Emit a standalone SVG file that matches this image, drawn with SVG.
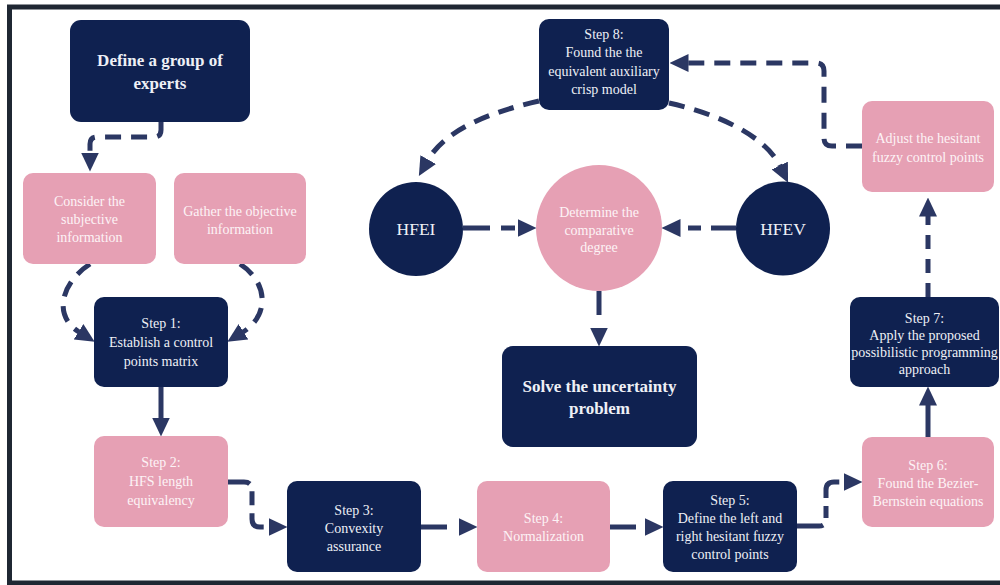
<svg xmlns="http://www.w3.org/2000/svg" width="1000" height="585" viewBox="0 0 1000 585">
<style>
.navy{fill:#0f2150}
.pink{fill:#e6a0b4}
.tn{fill:#eef0f6;font-family:"Liberation Serif",serif;font-size:14px;text-anchor:middle}
.tp{fill:#fdf3f6;font-family:"Liberation Serif",serif;font-size:14px;text-anchor:middle}
.tb{fill:#eef0f6;font-family:"Liberation Serif",serif;font-size:17px;font-weight:bold;text-anchor:middle}
.tc{fill:#eef0f6;font-family:"Liberation Serif",serif;font-size:17.5px;text-anchor:middle}
.c{fill:none;stroke:#2b3763;stroke-width:5}
</style>
<defs>
<marker id="ah" viewBox="0 0 19 18" refX="0.5" refY="9" markerWidth="19" markerHeight="18" markerUnits="userSpaceOnUse" orient="auto">
<path d="M0,0 L19,9 L0,18 Z" fill="#2b3763"/>
</marker>
</defs>
<rect x="0" y="0" width="1000" height="585" fill="#ffffff"/>
<rect x="9.5" y="7" width="1000" height="576" fill="none" stroke="#1f2733" stroke-width="5"/>

<g id="connectors">
<path class="c" d="M161,122 V130 Q161,137 154,137 H97 Q90,137 90,144 V153" stroke-dasharray="16 10" marker-end="url(#ah)"/>
<path class="c" d="M90,264 C62,282 52,315 79,332" stroke-dasharray="16 10" marker-end="url(#ah)"/>
<path class="c" d="M240,264 C268,282 270,315 243,332" stroke-dasharray="16 10" marker-end="url(#ah)"/>
<path class="c" d="M161,387 V418" marker-end="url(#ah)"/>
<path class="c" d="M228,482 H244 Q252,482 252,490 V519 Q252,527 260,527 H269" stroke-dasharray="22 8 14 8" marker-end="url(#ah)"/>
<path class="c" d="M421,527 H459" stroke-dasharray="26 12" marker-end="url(#ah)"/>
<path class="c" d="M610,527 H645" stroke-dasharray="26 12" marker-end="url(#ah)"/>
<path class="c" d="M797,526 H819 Q826,526 826,519 V490 Q826,482 834,482 H844" stroke-dasharray="26 8 12 8" marker-end="url(#ah)"/>
<path class="c" d="M928,437 V405" marker-end="url(#ah)"/>
<path class="c" d="M928,297 V216" stroke-dasharray="14 10" marker-end="url(#ah)"/>
<path class="c" d="M862,146 H832 Q824,146 824,138 V71 Q824,63 816,63 H688" stroke-dasharray="16 10" marker-end="url(#ah)"/>
<path class="c" d="M539,101 C490,112 445,130 428,160" stroke-dasharray="16 10" marker-end="url(#ah)"/>
<path class="c" d="M669,103 C715,113 765,135 780,166" stroke-dasharray="16 10" marker-end="url(#ah)"/>
<path class="c" d="M463,228 H518" stroke-dasharray="27 11 14 20" marker-end="url(#ah)"/>
<path class="c" d="M736,228 H680" stroke-dasharray="25 10 13 20" marker-end="url(#ah)"/>
<path class="c" d="M599,291 V328" stroke-dasharray="24 20" marker-end="url(#ah)"/>
</g>

<g id="define">
<rect class="navy" x="70" y="20" width="180" height="102" rx="11"/>
<text class="tb" x="160" y="65.5">Define a group of</text>
<text class="tb" x="160" y="88.5">experts</text>
</g>
<g id="consider">
<rect class="pink" x="23" y="173" width="133" height="91" rx="10"/>
<text class="tp" x="89.5" y="205.5">Consider the</text>
<text class="tp" x="89.5" y="223.5">subjective</text>
<text class="tp" x="89.5" y="241.5">information</text>
</g>
<g id="gather">
<rect class="pink" x="174" y="173" width="132" height="91" rx="10"/>
<text class="tp" x="240" y="215.5">Gather the objective</text>
<text class="tp" x="240" y="233.5">information</text>
</g>
<g id="step1">
<rect class="navy" x="94" y="297" width="134" height="90" rx="10"/>
<text class="tn" x="161" y="328">Step 1:</text>
<text class="tn" x="161" y="347">Establish a control</text>
<text class="tn" x="161" y="366">points matrix</text>
</g>
<g id="step2">
<rect class="pink" x="94" y="436" width="134" height="91" rx="10"/>
<text class="tp" x="161" y="467">Step 2:</text>
<text class="tp" x="161" y="486">HFS length</text>
<text class="tp" x="161" y="505">equivalency</text>
</g>
<g id="step3">
<rect class="navy" x="287" y="481" width="134" height="91" rx="10"/>
<text class="tn" x="354" y="515">Step 3:</text>
<text class="tn" x="354" y="533">Convexity</text>
<text class="tn" x="354" y="551">assurance</text>
</g>
<g id="step4">
<rect class="pink" x="477" y="481" width="133" height="91" rx="10"/>
<text class="tp" x="543.5" y="523">Step 4:</text>
<text class="tp" x="543.5" y="541">Normalization</text>
</g>
<g id="step5">
<rect class="navy" x="663" y="481" width="134" height="91" rx="10"/>
<text class="tn" x="730" y="505">Step 5:</text>
<text class="tn" x="730" y="523">Define the left and</text>
<text class="tn" x="730" y="541">right hesitant fuzzy</text>
<text class="tn" x="730" y="559">control points</text>
</g>
<g id="step6">
<rect class="pink" x="862" y="437" width="132" height="90" rx="10"/>
<text class="tp" x="928" y="470">Step 6:</text>
<text class="tp" x="928" y="488">Found the Bezier-</text>
<text class="tp" x="928" y="506">Bernstein equations</text>
</g>
<g id="step7">
<rect class="navy" x="850" y="297" width="149" height="90" rx="10"/>
<text class="tn" x="924.5" y="323">Step 7:</text>
<text class="tn" x="924.5" y="340">Apply the proposed</text>
<text class="tn" x="924.5" y="357">possibilistic programming</text>
<text class="tn" x="924.5" y="374">approach</text>
</g>
<g id="adjust">
<rect class="pink" x="862" y="101" width="132" height="91" rx="10"/>
<text class="tp" x="928" y="143">Adjust the hesitant</text>
<text class="tp" x="928" y="161.5">fuzzy control points</text>
</g>
<g id="step8">
<rect class="navy" x="539" y="19" width="130" height="91" rx="10"/>
<text class="tn" x="604" y="38.5">Step 8:</text>
<text class="tn" x="604" y="57">Found the the</text>
<text class="tn" x="604" y="75.5">equivalent auxiliary</text>
<text class="tn" x="604" y="94">crisp model</text>
</g>
<g id="hfei">
<circle class="navy" cx="416" cy="229" r="47"/>
<text class="tc" x="416" y="235">HFEI</text>
</g>
<g id="determine">
<circle class="pink" cx="599" cy="228" r="63"/>
<text class="tp" x="599" y="217">Determine the</text>
<text class="tp" x="599" y="235">comparative</text>
<text class="tp" x="599" y="252">degree</text>
</g>
<g id="hfev">
<circle class="navy" cx="783" cy="228.5" r="47"/>
<text class="tc" x="783" y="234.5">HFEV</text>
</g>
<g id="solve">
<rect class="navy" x="502" y="346" width="195" height="101" rx="11"/>
<text class="tb" x="599.5" y="392">Solve the uncertainty</text>
<text class="tb" x="599.5" y="414">problem</text>
</g>
</svg>
